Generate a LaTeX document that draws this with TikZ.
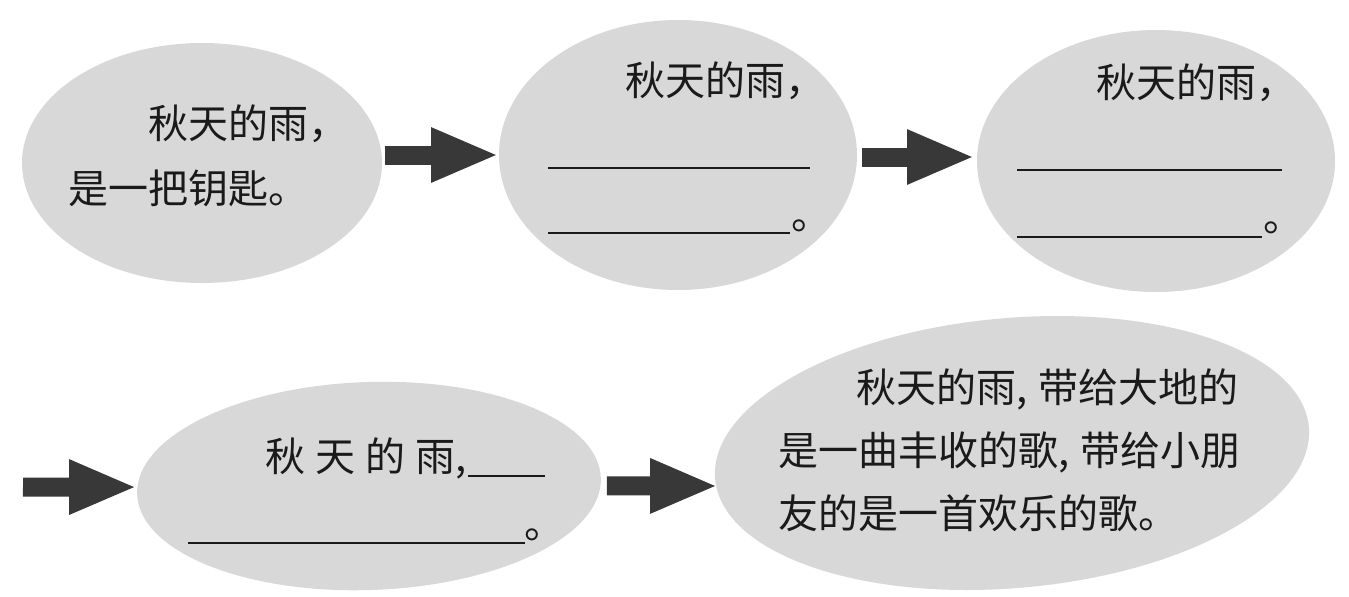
\documentclass[tikz,border=0pt]{standalone}
\usepackage{fontspec}
\newfontfamily\cjk{Noto Sans CJK SC}
\usetikzlibrary{shapes.geometric,arrows.meta}
\definecolor{ellfill}{HTML}{D8D8D8}
\definecolor{arrowcol}{HTML}{383838}
\definecolor{inkcol}{HTML}{1A1A1A}
\newcommand{\hc}{\makebox[0.55em][l]{,}}
\tikzset{
  bubble/.style={ellipse, fill=ellfill, draw=none, inner sep=0pt, outer sep=0pt},
  txt/.style={font=\cjk\fontsize{20pt}{20pt}\selectfont, inner sep=0pt, outer sep=0pt, anchor=base west, text=inkcol},
  blank/.style={draw=inkcol, line width=1.3pt},
  blk/.style={draw=arrowcol, line width=9.5pt, -{Triangle[length=34pt,width=25pt]}}
}
\begin{document}
\begin{tikzpicture}[x=0.5pt,y=-0.5pt]
\useasboundingbox[fill=white] (0,0) rectangle (1349,596);
% bubbles
\node[bubble, minimum width=180pt, minimum height=120pt] (e1) at (202,163) {};
\node[bubble, minimum width=179pt, minimum height=135pt] (e2) at (678,155) {};
\node[bubble, minimum width=179pt, minimum height=131pt] (e3) at (1156,161) {};
\node[bubble, minimum width=232pt, minimum height=104pt, rotate=2] (e4) at (369,486) {};
\node[bubble, minimum width=298pt, minimum height=135pt, rotate=5] (e5) at (1012,453) {};
% texts bubble 1
\node[txt] (t1a) at (148,138) {秋天的雨，};
\node[txt] (t1b) at (68,203) {是一把钥匙。};
% bubble 2
\node[txt] (t2a) at (625,95) {秋天的雨，};
\coordinate (u2a) at (548,168); \coordinate (v2a) at (810,168);
\coordinate (u2b) at (548,233); \coordinate (v2b) at (790,233);
\draw[blank] (u2a) -- (v2a);
\draw[blank] (u2b) -- (v2b);
\node[txt] (p2) at (791,229) {。};
% bubble 3
\node[txt] (t3a) at (1096,97) {秋天的雨，};
\coordinate (u3a) at (1017,170); \coordinate (v3a) at (1282,170);
\coordinate (u3b) at (1017,237); \coordinate (v3b) at (1262,237);
\draw[blank] (u3a) -- (v3a);
\draw[blank] (u3b) -- (v3b);
\node[txt] (p3) at (1263,231) {。};
% bubble 4
\node[txt] (t4a) at (265,471) {秋\hspace{5pt}天\hspace{5pt}的\hspace{5pt}雨,};
\coordinate (u4a) at (468,476); \coordinate (v4a) at (545,476);
\coordinate (u4b) at (188,543); \coordinate (v4b) at (525,543);
\draw[blank] (u4a) -- (v4a);
\draw[blank] (u4b) -- (v4b);
\node[txt] (p4) at (524,538) {。};
% bubble 5
\node[txt] (t5a) at (856,402) {秋天的雨\hc 带给大地的};
\node[txt] (t5b) at (778,465) {是一曲丰收的歌\hc 带给小朋};
\node[txt] (t5c) at (778,528) {友的是一首欢乐的歌。};
% arrows
\coordinate (s3) at (23,487);
\draw[blk] ([xshift=1.5pt,yshift=4pt]e1.east) -- (e2.west);
\draw[blk] ([xshift=2.5pt,yshift=-1pt]e2.east) -- ([xshift=-1pt,yshift=2pt]e3.west);
\draw[blk] (s3) -- ([yshift=3.5pt]e4.west);
\draw[blk] ([xshift=3pt,yshift=-4pt]e4.east) -- ([xshift=1.5pt,yshift=-3.5pt]e5.west);
\end{tikzpicture}
\end{document}
